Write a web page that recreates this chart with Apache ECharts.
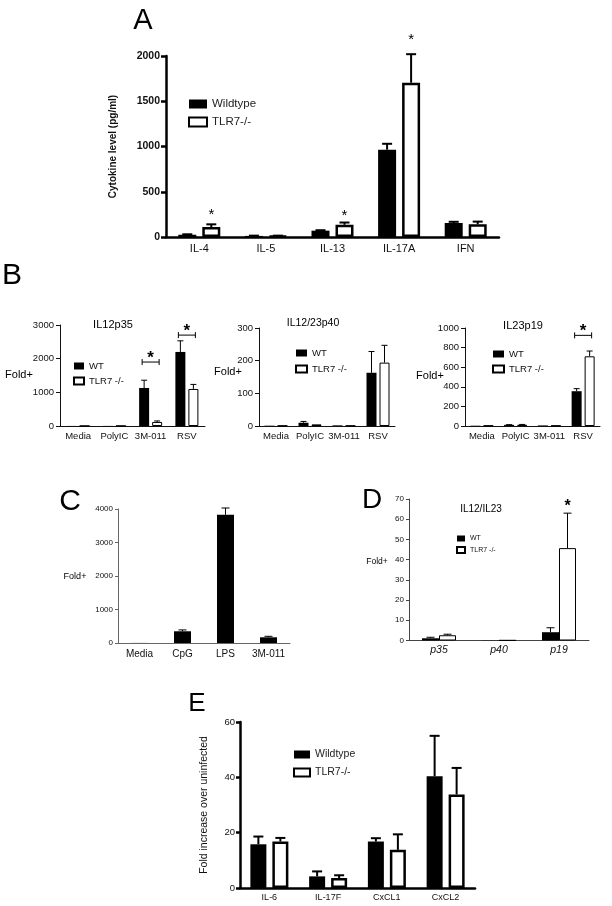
<!DOCTYPE html>
<html>
<head>
<meta charset="utf-8">
<script src="https://cdn.jsdelivr.net/npm/echarts@6/dist/echarts.min.js"></script>
<style>
  html, body { margin: 0; padding: 0; background: #fff; }
  #chart { width: 612px; height: 906px; }
</style>
</head>
<body>
<div id="chart"></div>
<script>
  // ---- data ----
  // A: cytokine level (pg/ml)
  const catsA = ['IL-4', 'IL-5', 'IL-13', 'IL-17A', 'IFN']
  const wtA = [25, 12, 70, 965, 155]
  const wtErrA = [30, 15, 75, 1030, 168]
  const koA = [110, 12, 135, 1705, 140]
  const koErrA = [140, 15, 160, 2020, 170]
  const starA = [[0, 275], [2, 270], [3, 2210]] // [category, y] over TLR7 bar

  // B: fold+
  const catsB = ['Media', 'PolyIC', '3M-011', 'RSV']
  const wtB1 = [2, 3, 1130, 2200]
  const wtErrB1 = [2, 3, 1360, 2530]
  const koB1 = [2, 3, 120, 1100]
  const koErrB1 = [2, 3, 150, 1235]
  const bracketB1 = [[2, 1900], [3, 2700]]

  const wtB2 = [1, 10, 2, 163]
  const wtErrB2 = [1, 14, 2, 228]
  const koB2 = [1, 5, 1, 194]
  const koErrB2 = [1, 5, 1, 247]

  const wtB3 = [3, 12, 6, 355]
  const wtErrB3 = [3, 14, 6, 381]
  const koB3 = [4, 13, 4, 711]
  const koErrB3 = [4, 16, 4, 765]
  const bracketB3 = [[3, 925]]

  // C
  const catsC = ['Media', 'CpG', 'LPS', '3M-011']
  const valC = [2, 350, 3830, 170]
  const errC = [2, 390, 4030, 200]

  // D
  const catsD = ['p35', 'p40', 'p19']
  const wtD = [1.1, 0.1, 4.1]
  const wtErrD = [1.6, 0.1, 6.3]
  const koD = [2.6, 0.1, 45.7]
  const koErrD = [3.1, 0.1, 63]
  const starD = [[2, 68]]

  // E
  const catsE = ['IL-6', 'IL-17F', 'CxCL1', 'CxCL2']
  const wtE = [15.8, 4.2, 16.8, 40.4]
  const wtErrE = [18.6, 6, 18, 55]
  const koE = [16.8, 3.6, 13.8, 33.8]
  const koErrE = [18.1, 4.6, 19.4, 43.4]

  // ---- build ----
  const FONT = '"Liberation Sans", Arial, sans-serif'
  const grids = []
  const xAxes = []
  const yAxes = []
  const series = []
  const legends = []
  const texts = []

  function addPanel (p) {
    const idx = grids.length
    const n = p.series.length
    grids.push({ left: p.left, top: p.top, width: p.width, height: p.height })
    const line = { color: p.axisColor, width: p.axisW }
    xAxes.push({
      type: 'category',
      gridIndex: idx,
      data: p.cats,
      axisLine: { lineStyle: line },
      axisTick: { alignWithLabel: p.tickCenter, length: p.tickLen, lineStyle: line },
      axisLabel: {
        interval: 0,
        margin: p.xMargin,
        fontSize: p.xFont,
        fontFamily: FONT,
        fontStyle: p.italic ? 'italic' : 'normal',
        color: '#111'
      },
      splitLine: { show: false }
    })
    yAxes.push({
      type: 'value',
      gridIndex: idx,
      min: 0,
      max: p.max,
      interval: p.interval,
      name: p.yName || '',
      nameLocation: 'middle',
      nameGap: p.yNameGap,
      nameRotate: 90,
      nameTextStyle: { fontFamily: FONT, fontSize: p.yNameFont, fontWeight: p.yNameBold ? 'bold' : 'normal', color: '#111' },
      axisLine: { show: true, lineStyle: line },
      axisTick: { show: true, length: p.tickLen, lineStyle: line },
      axisLabel: {
        margin: p.yMargin,
        fontSize: p.yFont,
        fontFamily: FONT,
        fontWeight: p.yBold ? 'bold' : 'normal',
        color: '#111',
        formatter: v => String(v)
      },
      splitLine: { show: false }
    })
    p.series.forEach((s, k) => {
      const white = k === 1
      series.push({
        type: 'bar',
        name: s.name,
        xAxisIndex: idx,
        yAxisIndex: idx,
        data: s.values,
        barWidth: p.barW,
        barGap: (p.gap / p.barW * 100) + '%',
        itemStyle: white
          ? { color: '#fff', borderColor: '#000', borderWidth: p.borderW }
          : { color: '#000' },
        silent: true
      })
      const off = n === 1 ? 0 : (k - 0.5) * (p.barW + p.gap)
      series.push({
        type: 'custom',
        xAxisIndex: idx,
        yAxisIndex: idx,
        silent: true,
        z: 3,
        data: s.values.map((v, i) => [i, v, s.err[i]]),
        encode: { x: 0, y: [1, 2] },
        renderItem: function (params, api) {
          const v = api.value(1)
          const e = api.value(2)
          if (!(e > v)) return { type: 'group', children: [] }
          const base = api.coord([api.value(0), v])
          const top = api.coord([api.value(0), e])
          const x = base[0] + off
          const st = { stroke: '#000', lineWidth: p.errW }
          return {
            type: 'group',
            children: [
              { type: 'line', shape: { x1: x, y1: base[1], x2: x, y2: top[1] }, style: st },
              { type: 'line', shape: { x1: x - p.cap, y1: top[1], x2: x + p.cap, y2: top[1] }, style: st }
            ]
          }
        }
      })
    })
    // asterisks over the TLR7 bar
    if (p.stars) {
      const off = (p.barW + p.gap) / 2
      series.push({
        type: 'custom',
        xAxisIndex: idx,
        yAxisIndex: idx,
        silent: true,
        z: 4,
        data: p.stars,
        encode: { x: 0, y: 1 },
        renderItem: function (params, api) {
          const c = api.coord([api.value(0), api.value(1)])
          return {
            type: 'text',
            style: {
              text: '*', x: c[0] + off, y: c[1] + p.starSize * 0.2,
              font: (p.starBold ? 'bold ' : '') + p.starSize + 'px ' + FONT,
              fill: '#000', align: 'center', verticalAlign: 'middle',
              textAlign: 'center', textVerticalAlign: 'middle'
            }
          }
        }
      })
    }
    // brackets with asterisk
    if (p.brackets) {
      const half = (p.barW + p.gap) / 2 + 2
      series.push({
        type: 'custom',
        xAxisIndex: idx,
        yAxisIndex: idx,
        silent: true,
        z: 4,
        data: p.brackets,
        encode: { x: 0, y: 1 },
        renderItem: function (params, api) {
          const c = api.coord([api.value(0), api.value(1)])
          const st = { stroke: '#000', lineWidth: 1 }
          return {
            type: 'group',
            children: [
              { type: 'line', shape: { x1: c[0] - half, y1: c[1], x2: c[0] + half, y2: c[1] }, style: st },
              { type: 'line', shape: { x1: c[0] - half, y1: c[1] - 3, x2: c[0] - half, y2: c[1] + 3 }, style: st },
              { type: 'line', shape: { x1: c[0] + half, y1: c[1] - 3, x2: c[0] + half, y2: c[1] + 3 }, style: st },
              {
                type: 'text',
                style: {
                  text: '*', x: c[0], y: c[1] - 4,
                  font: 'bold 17px ' + FONT, fill: '#000',
                  align: 'center', verticalAlign: 'middle',
                  textAlign: 'center', textVerticalAlign: 'middle'
                }
              }
            ]
          }
        }
      })
    }
    if (p.legend) {
      legends.push(Object.assign({
        orient: 'vertical',
        selectedMode: false,
        icon: 'rect',
        padding: 0,
        data: p.series.map(s => s.name),
        textStyle: { fontFamily: FONT, color: '#111' }
      }, p.legend))
    }
  }

  function addText (text, x, y, size, extra) {
    texts.push({
      type: 'text',
      x: x,
      y: y,
      silent: true,
      style: Object.assign({
        text: text,
        font: size + 'px ' + FONT,
        fill: '#000',
        align: 'center',
        verticalAlign: 'middle',
        textAlign: 'center',
        textVerticalAlign: 'middle'
      }, extra || {})
    })
  }

  // Panel A
  addPanel({
    left: 166, top: 56, width: 333, height: 181,
    cats: catsA, max: 2000, interval: 500,
    axisColor: '#000', axisW: 2.5, tickLen: 5, tickCenter: true,
    xMargin: 6, xFont: 11, yMargin: 6, yFont: 10.5, yBold: true,
    yName: 'Cytokine level (pg/ml)', yNameGap: 48, yNameFont: 10, yNameBold: true,
    barW: 18, gap: 6, borderW: 2.5, errW: 2, cap: 5,
    series: [
      { name: 'Wildtype', values: wtA, err: wtErrA },
      { name: 'TLR7-/-', values: koA, err: koErrA }
    ],
    stars: starA, starSize: 15, starBold: false,
    legend: { left: 188, top: 98, itemWidth: 18, itemHeight: 9, itemGap: 6, textStyle: { fontFamily: FONT, fontSize: 11.5, color: '#222' } }
  })

  // Panel B
  const bCommon = {
    cats: catsB, axisColor: '#111', axisW: 1, tickLen: 4, tickCenter: true,
    xMargin: 5, xFont: 9.5, yMargin: 6, yFont: 9.5,
    barW: 10, gap: 3, borderW: 1, errW: 1, cap: 3
  }
  const bLegendText = { fontFamily: FONT, fontSize: 9.5, color: '#111' }
  addPanel(Object.assign({}, bCommon, {
    left: 60, top: 325, width: 145, height: 101, max: 3000, interval: 1000,
    series: [
      { name: 'WT', values: wtB1, err: wtErrB1 },
      { name: 'TLR7 -/-', values: koB1, err: koErrB1 }
    ],
    brackets: bracketB1,
    legend: { left: 73, top: 361, itemWidth: 10, itemHeight: 7, itemGap: 5, textStyle: bLegendText }
  }))
  addPanel(Object.assign({}, bCommon, {
    left: 259, top: 328, width: 136, height: 98, max: 300, interval: 100,
    series: [
      { name: 'WT', values: wtB2, err: wtErrB2 },
      { name: 'TLR7 -/-', values: koB2, err: koErrB2 }
    ],
    legend: { left: 295, top: 348, itemWidth: 11, itemHeight: 7, itemGap: 6, textStyle: bLegendText }
  }))
  addPanel(Object.assign({}, bCommon, {
    left: 465, top: 328, width: 135, height: 98, max: 1000, interval: 200,
    series: [
      { name: 'WT', values: wtB3, err: wtErrB3 },
      { name: 'TLR7 -/-', values: koB3, err: koErrB3 }
    ],
    brackets: bracketB3,
    legend: { left: 492, top: 349, itemWidth: 11, itemHeight: 7, itemGap: 5, textStyle: bLegendText }
  }))

  // Panel C
  addPanel({
    left: 118, top: 509, width: 172, height: 134,
    cats: catsC, max: 4000, interval: 1000,
    axisColor: '#666', axisW: 1, tickLen: 3, tickCenter: false,
    xMargin: 6, xFont: 10, yMargin: 5, yFont: 8,
    barW: 17, gap: 0, borderW: 1, errW: 1, cap: 4,
    series: [{ name: 'Fold', values: valC, err: errC }]
  })

  // Panel D
  addPanel({
    left: 409, top: 499, width: 180, height: 141.5,
    cats: catsD, max: 70, interval: 10,
    axisColor: '#444', axisW: 1, tickLen: 3, tickCenter: false,
    xMargin: 4, xFont: 10.5, italic: true, yMargin: 5, yFont: 8,
    barW: 17, gap: 0, borderW: 1, errW: 1, cap: 4,
    series: [
      { name: 'WT', values: wtD, err: wtErrD },
      { name: 'TLR7 -/-', values: koD, err: koErrD }
    ],
    stars: starD, starSize: 16, starBold: true,
    legend: { left: 456, top: 535, itemWidth: 8, itemHeight: 6, itemGap: 4, textStyle: { fontFamily: FONT, fontSize: 7, color: '#111' } }
  })

  // Panel E
  addPanel({
    left: 240, top: 722, width: 235, height: 166,
    cats: catsE, max: 60, interval: 20,
    axisColor: '#000', axisW: 2.5, tickLen: 4, tickCenter: true,
    xMargin: 5, xFont: 9, yMargin: 5, yFont: 9.5,
    yName: 'Fold increase over uninfected', yNameGap: 30, yNameFont: 10.5,
    barW: 16, gap: 6, borderW: 2.5, errW: 2, cap: 5,
    series: [
      { name: 'Wildtype', values: wtE, err: wtErrE },
      { name: 'TLR7-/-', values: koE, err: koErrE }
    ],
    legend: { left: 293, top: 749, itemWidth: 16, itemHeight: 8, itemGap: 7, textStyle: { fontFamily: FONT, fontSize: 10.5, color: '#222' } }
  })

  // panel letters and labels
  addText('A', 143, 21, 29)
  addText('B', 12, 276, 30)
  addText('C', 70, 502, 30)
  addText('D', 372, 500, 28)
  addText('E', 197, 704, 26)
  addText('IL12p35', 113, 325, 11)
  addText('IL12/23p40', 313, 323, 10.5)
  addText('IL23p19', 523, 326, 11)
  addText('IL12/IL23', 481, 509, 10)
  addText('Fold+', 19, 375, 11)
  addText('Fold+', 228, 372, 11)
  addText('Fold+', 430, 376, 11)
  addText('Fold+', 75, 577, 9)
  addText('Fold+', 377, 562, 8.5)

  const mychart = echarts.init(document.getElementById('chart'))
  mychart.setOption({
    animation: false,
    backgroundColor: '#fff',
    grid: grids,
    xAxis: xAxes,
    yAxis: yAxes,
    legend: legends,
    series: series,
    graphic: texts
  })
</script>
</body>
</html>
